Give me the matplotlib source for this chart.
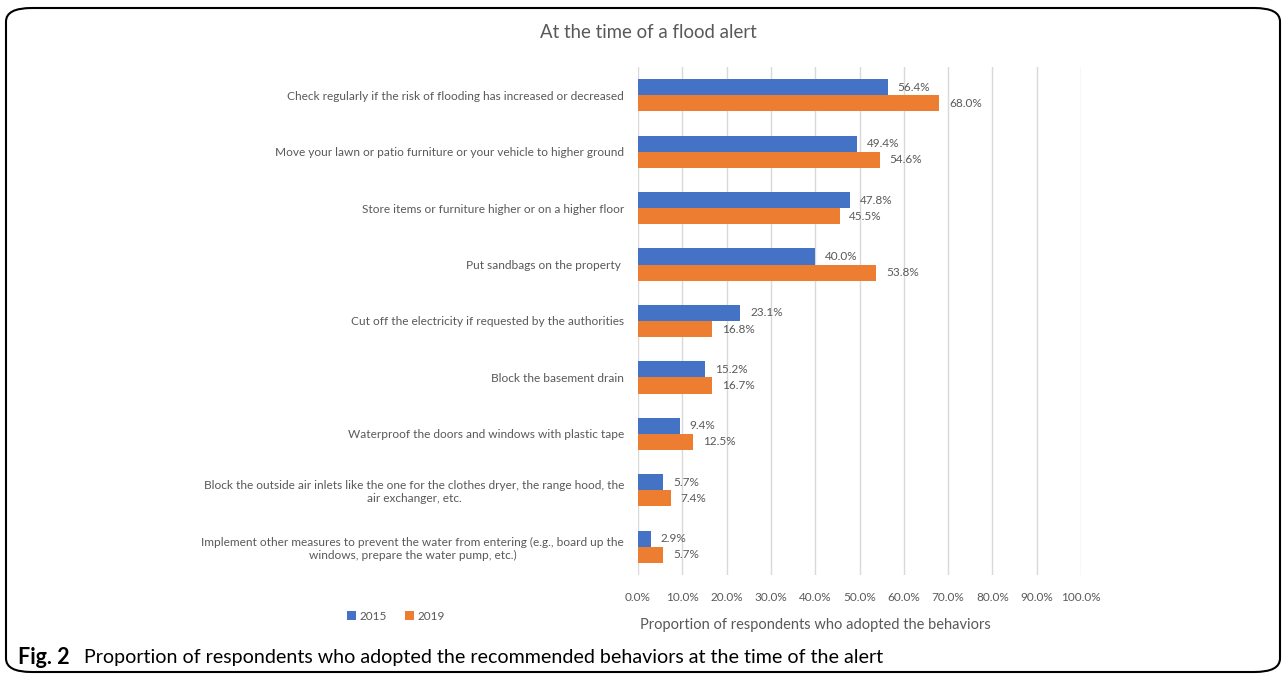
import matplotlib.pyplot as plt
import numpy as np
from matplotlib.patches import FancyBboxPatch

behaviors = [
    "Check regularly if the risk of flooding has increased or decreased",
    "Move your lawn or patio furniture or your vehicle to higher ground",
    "Store items or furniture higher or on a higher floor",
    "Put sandbags on the property ",
    "Cut off the electricity if requested by the authorities",
    "Block the basement drain",
    "Waterproof the doors and windows with plastic tape",
    "Block the outside air inlets like the one for the clothes dryer, the range hood, the\nair exchanger, etc.",
    "Implement other measures to prevent the water from entering (e.g., board up the\nwindows, prepare the water pump, etc.)",
]
vals_2015 = [56.4, 49.4, 47.8, 40.0, 23.1, 15.2, 9.4, 5.7, 2.9]
vals_2019 = [68.0, 54.6, 45.5, 53.8, 16.8, 16.7, 12.5, 7.4, 5.7]
ticks = [0, 10, 20, 30, 40, 50, 60, 70, 80, 90, 100]

plt.rcParams['font.family'] = ['Lato', 'DejaVu Sans']
grey = "#595959"

fig = plt.figure(figsize=(12.88, 6.76), dpi=100)
ax = fig.add_axes([638/1288, 1 - 575/676, 443/1288, 508/676])

y = np.arange(len(behaviors))
h = 0.285
ax.barh(y - h/2, vals_2015, h, color="#4472C4", label="2015", zorder=3)
ax.barh(y + h/2, vals_2019, h, color="#ED7D31", label="2019", zorder=3)

for yi, v in zip(y, vals_2015):
    ax.text(v + 2.2, yi - h/2, f"{v:.1f}%", va="center", ha="left", fontsize=8.5, color=grey)
for yi, v in zip(y, vals_2019):
    ax.text(v + 2.2, yi + h/2, f"{v:.1f}%", va="center", ha="left", fontsize=8.5, color=grey)

ax.set_xlim(0, 100)
ax.set_ylim(len(behaviors) - 0.5, -0.5)
ax.set_xticks(ticks)
ax.set_xticklabels([f"{t:.1f}%" for t in ticks], fontsize=8.5, color=grey)
ax.set_yticks(y)
ax.set_yticklabels(behaviors, fontsize=8.6, color=grey, multialignment="center")
ax.tick_params(axis="x", length=0, pad=12)
ax.tick_params(axis="y", length=0, pad=10)
ax.grid(axis="x", color="#D9D9D9", linewidth=1, zorder=0)
for s in ax.spines.values():
    s.set_visible(False)

fig.text(648/1288, 1 - 33/676, "At the time of a flood alert", ha="center", va="center",
         fontsize=13.4, color=grey)
fig.text(815/1288, 1 - 625/676, "Proportion of respondents who adopted the behaviors",
         ha="center", va="center", fontsize=10.5, color=grey)

leg = fig.legend(loc="center", bbox_to_anchor=(396/1288, 1 - 616/676), ncol=2, frameon=False,
                 fontsize=8.5, handlelength=0.7, handleheight=0.7, handletextpad=0.3,
                 columnspacing=1.6, labelcolor=grey)

fig.text(18/1288, 1 - 657/676, "Fig. 2", ha="left", va="center", fontsize=15.5, fontweight="bold")
fig.text(84/1288, 1 - 657/676,
         "Proportion of respondents who adopted the recommended behaviors at the time of the alert",
         ha="left", va="center", fontsize=14.1)

box = FancyBboxPatch((6/1288, 4/676), 1274/1288, 664/676,
                     boxstyle="round,pad=0,rounding_size=0.02",
                     transform=fig.transFigure, fill=False, edgecolor="black", linewidth=1.5)
fig.patches.append(box)

fig.savefig("out.png", dpi=100)
